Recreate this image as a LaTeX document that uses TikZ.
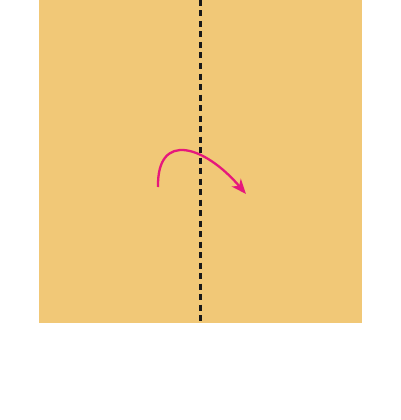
\documentclass[tikz,border=0pt]{standalone}
\usetikzlibrary{arrows.meta}
\definecolor{paper}{HTML}{F1C877}
\definecolor{fold}{HTML}{E6187C}
\tikzset{
  foldline/.style={line width=2.3pt, black!90, dash pattern=on 6pt off 4.5pt},
  turnarrow/.style={line width=2.3pt, fold, -{Stealth[length=15pt,width=12pt,inset=4.5pt]}}
}
\begin{document}
\begin{tikzpicture}[x=1pt,y=-1pt]
\useasboundingbox (0,0) rectangle (400,420);
\fill[paper] (39,0) rectangle (362,323);
\coordinate (top) at (200.5,0);
\coordinate (bot) at (200.5,323);
\draw[foldline] (top) -- (bot);
\coordinate (s) at (158,187);
\coordinate (e) at (246,194);
\draw[turnarrow] (s) .. controls (157,130) and (205,146) .. (e);
\end{tikzpicture}
\end{document}
